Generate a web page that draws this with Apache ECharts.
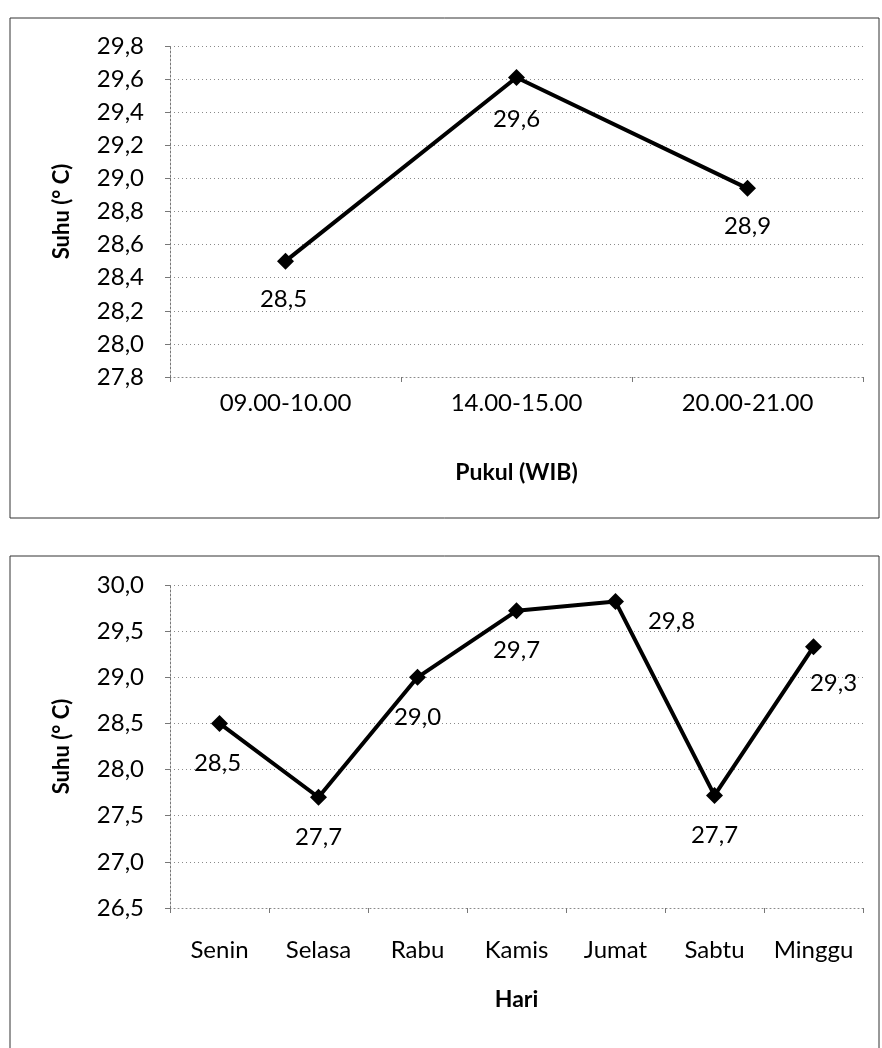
<!DOCTYPE html>
<html>
<head>
<meta charset="utf-8">
<script src="https://cdn.jsdelivr.net/npm/echarts@6/dist/echarts.min.js"></script>
<style>
html,body{margin:0;padding:0;background:#fff;}
#c{width:882px;height:1048px;}
</style>
</head>
<body>
<div id="c"></div>
<script>
// ---- Data ----
var jamCategories = ['09.00-10.00', '14.00-15.00', '20.00-21.00'];
var jamValues = [28.5, 29.61, 28.94];
var jamTicks = {min: 27.8, max: 29.8, interval: 0.2};

var hariCategories = ['Senin', 'Selasa', 'Rabu', 'Kamis', 'Jumat', 'Sabtu', 'Minggu'];
var hariValues = [28.5, 27.7, 29.0, 29.72, 29.82, 27.72, 29.33];
var hariTicks = {min: 26.5, max: 30.0, interval: 0.5};

// ---- label placement (style, not data) ----
var jamLabelOffsets = [[-2, 38], [0, 42], [0, 38]];
var hariLabelOffsets = [[-2, 40], [0, 40], [0, 40], [0, 39], [56, 20], [0, 40], [20, 36]];

var FONT = 'Lato';
function fmt(v) { return Number(v).toFixed(1).replace('.', ','); }

function buildData(vals, offs) {
  return vals.map(function (v, i) {
    return { value: v, label: { offset: offs[i] } };
  });
}

var gridStyle = { show: true, lineStyle: { color: '#8a8a8a', type: [1, 3], width: 1 } };

function yAxis(idx, t) {
  return {
    type: 'value', gridIndex: idx, min: t.min, max: t.max, interval: t.interval,
    name: 'Suhu (° C)', nameLocation: 'middle', nameRotate: 90, nameGap: 97,
    nameTextStyle: { fontFamily: FONT, fontWeight: 'bold', fontSize: 22, color: '#000' },
    axisLine: { show: true, lineStyle: { color: '#777', type: [2, 2], width: 1 } },
    axisTick: { show: true, length: 5, lineStyle: { color: '#777' } },
    axisLabel: { fontFamily: FONT, fontSize: 24, color: '#000', margin: 26, formatter: fmt },
    splitLine: gridStyle
  };
}
function xAxis(idx, cats, name, gap, margin) {
  return {
    type: 'category', gridIndex: idx, data: cats, boundaryGap: true,
    name: name, nameLocation: 'middle', nameGap: gap,
    nameTextStyle: { fontFamily: FONT, fontWeight: 'bold', fontSize: 23, color: '#000' },
    axisLine: { show: true, lineStyle: { color: '#8a8a8a', type: [1, 3], width: 1 } },
    axisTick: { show: true, length: 5, interval: 0, lineStyle: { color: '#777' } },
    axisLabel: { fontFamily: FONT, fontSize: 24, color: '#000', margin: margin, interval: 0 },
    splitLine: { show: false }
  };
}
function lineSeries(idx, vals, offs) {
  return {
    type: 'line', xAxisIndex: idx, yAxisIndex: idx,
    data: buildData(vals, offs),
    symbol: 'diamond', symbolSize: 17,
    lineStyle: { color: '#000', width: 4 },
    itemStyle: { color: '#000' },
    label: {
      show: true, position: 'inside', fontFamily: FONT, fontSize: 24, color: '#000',
      formatter: function (p) { return fmt(p.value); }
    },
    animation: false, z: 5
  };
}

var chart = echarts.init(document.getElementById('c'), null, { renderer: 'canvas' });
chart.setOption({
  backgroundColor: '#fff',
  animation: false,
  graphic: [
    { type: 'rect', shape: { x: 10, y: 18, width: 869, height: 500 }, style: { fill: 'none', stroke: '#333', lineWidth: 1 }, silent: true },
    { type: 'rect', shape: { x: 10, y: 556, width: 869, height: 520 }, style: { fill: 'none', stroke: '#333', lineWidth: 1 }, silent: true }
  ],
  grid: [
    { left: 170, top: 46, width: 693, height: 331 },
    { left: 170, top: 585, width: 693, height: 323 }
  ],
  xAxis: [
    xAxis(0, jamCategories, 'Pukul (WIB)', 84, 14),
    xAxis(1, hariCategories, 'Hari', 80, 30)
  ],
  yAxis: [ yAxis(0, jamTicks), yAxis(1, hariTicks) ],
  series: [ lineSeries(0, jamValues, jamLabelOffsets), lineSeries(1, hariValues, hariLabelOffsets) ]
});
</script>
</body>
</html>
